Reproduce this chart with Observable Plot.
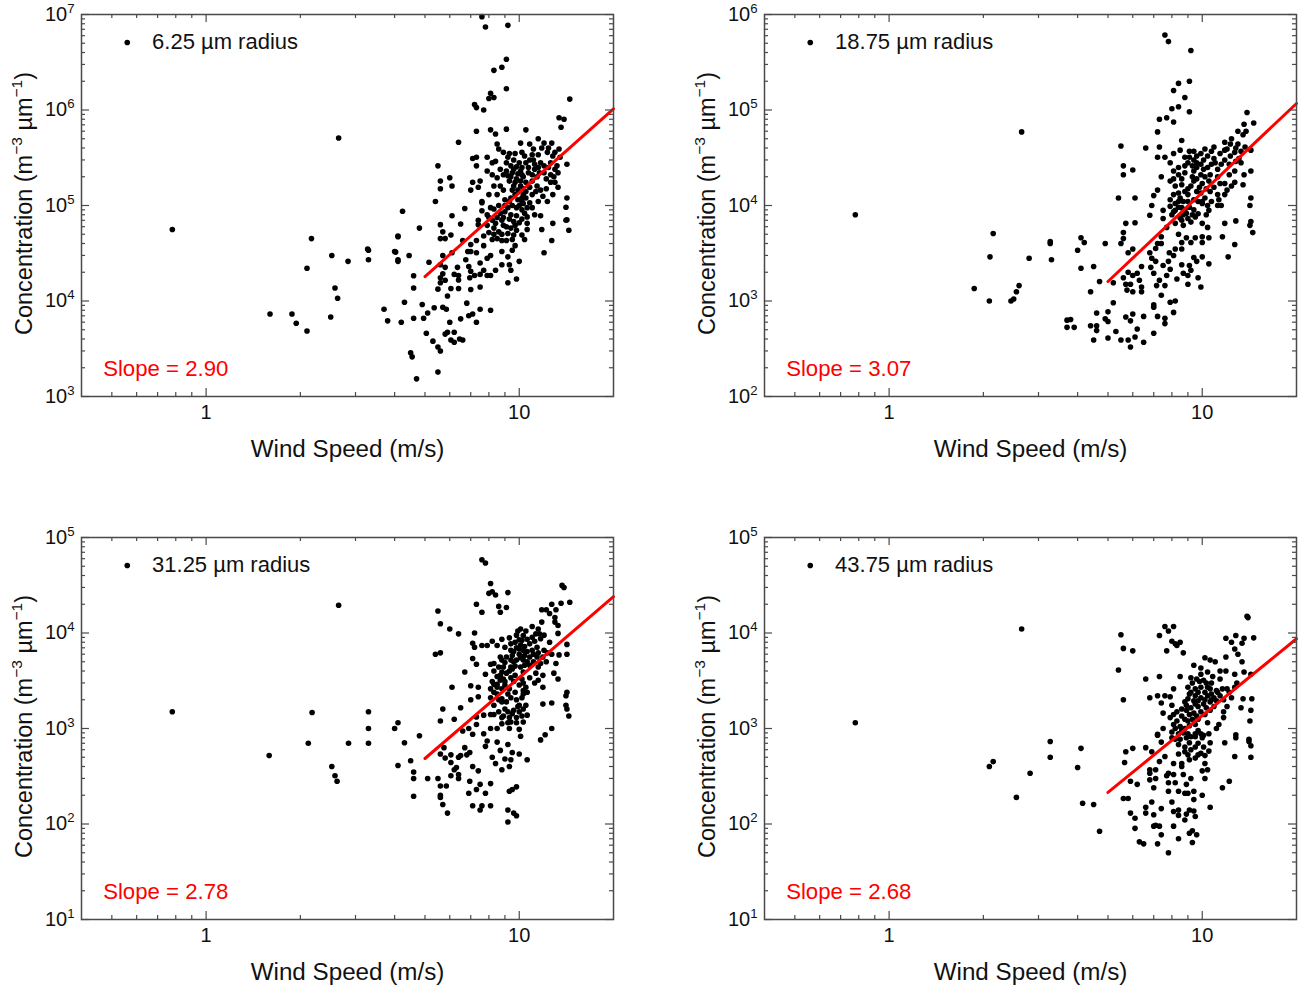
<!DOCTYPE html>
<html><head><meta charset="utf-8">
<style>
html,body{margin:0;padding:0;background:#fff;width:1307px;height:991px;overflow:hidden}
.p{position:absolute}
svg{overflow:visible}
</style>
<script src="https://cdn.jsdelivr.net/npm/d3@7"></script>
<script src="https://cdn.jsdelivr.net/npm/@observablehq/plot@0.6"></script>
</head><body>
<div id="root"></div>
<script>
const points625=[[0.78,5.6e4],[2.65,5.1e5],[2.17,4.5e4],[2.1,2.2e4],[2.52,3e4],[2.84,2.6e4],[3.28,3.5e4],[3.3,3.4e4],[3.3,2.7e4],[4.1,4.7e4],[4.03,3.25e4],[4.1,2.6e4],[2.58,1.37e4],[2.63,1.07e4],[1.6,7.3e3],[1.88,7.3e3],[1.94,5.85e3],[2.1,4.85e3],[2.5,6.8e3],[3.7,8.2e3],[3.8,6.2e3],
[7.6,9.5e6],[7.8,7.4e6],[9.2,7.7e6],[9.1,3.4e6],[8.8,2.8e6],[8.3,2.6e6],[9.1,1.67e6],[8.1,1.5e6],[8.3,1.35e6],[8,1.32e6],[7.2,1.14e6],[7.3,1.06e6],[7.7,1e6],[14.5,1.3e6],[13.4,8.3e5],[13.9,8e5],[13.6,6.6e5],[7.3,6e5],[8.1,6.2e5],[8.4,5.6e5],[9.1,6.3e5],[10.5,6.2e5],[6.4,4.6e5],[5.5,2.6e5],[5.6,1.8e5],[6,1.95e5],[5.6,1.5e5],[6.1,1.6e5],[5.4,1.1e5],
[9.3,1.1e5],[9,1.15e5],[8.5,1.3e5],[8,1.3e5],[7.6,1.07e5],[8.5,1.95e5],[8.2,2.1e5],[7.9,2.3e5],[8.2,2.8e5],[8.4,2.9e5],[7.3,2.6e5],[7.1,3.1e5],[7.3,3.2e5],[7.1,1.75e5],[7.5,1.8e5],[7.4,1.55e5],[7,1.45e5],[7.9,3.2e5],[8.5,4.4e5],[8.6,3.9e5],[8.9,3.6e5],[9.3,3.5e5],[9.7,3.5e5],[10.1,4.5e5],[10.2,3.6e5],[10.8,4.4e5],[11.1,3.9e5],[11.5,5e5],[12,4.5e5],[12.7,4.5e5],[11.8,4e5],[12.3,3.6e5],[13.4,3.9e5],[13,3.6e5],[9.1,2.8e5],[9.6,3e5],[10,2.8e5],[10.5,2.8e5],[11.1,3e5],[11.7,2.8e5],[12.6,2.8e5],[13.2,2.6e5],[14.2,2.7e5],[9.1,2.3e5],[9.6,2.4e5],[10.1,2.3e5],[10.7,2.2e5],[11.2,2.4e5],[12,2.2e5],[13,2.4e5],[9.4,2e5],[9.8,1.9e5],[10.3,2e5],[11,1.8e5],[11.4,2e5],[12.6,2.1e5],[13.3,2.2e5],[9.6,1.6e5],[10.1,1.6e5],[10.8,1.55e5],[11.4,1.6e5],[12.6,1.75e5],[13,1.75e5],[13.3,1.55e5],[9.7,1.3e5],[10.3,1.3e5],[11,1.3e5],[11.9,1.25e5],[12.8,1.3e5],[14.2,1.2e5],[10.2,1.1e5],[10.8,1.07e5],[11.5,1.1e5],[12.3,1.1e5],
[4.24,8.7e4],[4.8,5.8e4],[4.1,4.8e4],[4,3.3e4],[4.1,2.7e4],[4.45,3e4],[4.6,1.84e4],[4.6,1.37e4],[4.3,9.7e3],[4.9,9.2e3],[4.2,6e3],[4.6,6.6e3],[4.95,6.6e3],[5.1,7.5e3],[5.35,8.5e3],[5.7,8.6e3],[5.85,8.2e3],[5.05,4.6e3],[5.3,3.8e3],[5.5,3.3e3],[5.6,3e3],[4.5,2.87e3],[4.55,2.6e3],[5.5,1.8e3],[4.7,1.53e3],[5.9,4.7e3],[5.8,4.5e3],[6.2,4.7e3],[6,6e3],[6.5,6.5e3],[6.9,7e3],[7.1,7.3e3],[7.3,6e3],[6.8,9.5e3],[7.5,8.2e3],[8.1,8e3],[6.05,3.9e3],[6.2,3.7e3],[6.45,4e3],[6.6,3.9e3],[5.9,1.13e4],[5.5,1.33e4],[6.05,1.35e4],[6.4,1.35e4],[7,1.32e4],[7.5,1.4e4],[9.2,1.55e4],[9.8,1.7e4],[5.15,2.55e4],[5.6,2.4e4],[5.8,2.25e4],[5.7,3e4],[6.1,3.2e4],[5.7,1.93e4],[5.6,1.75e4],[5.8,1.65e4],[5.6,1.55e4],[6.2,1.9e4],[6.35,2.25e4],[6.4,1.85e4],[6.4,1.66e4],[6.9,2.3e4],[6.75,2.7e4],[6.85,3.3e4],[7,3.3e4],[7.3,3.2e4],[7,2.05e4],[6.95,1.75e4],[7.2,1.85e4],[7.5,1.9e4],[7.9,1.85e4],[8.1,1.85e4],[7.7,2.1e4],[7.5,2.5e4],[7.9,2.8e4],[8.4,2.1e4],[8.8,2.4e4],[9.3,2.4e4],[9.4,2.1e4],[10,2.6e4],[9.2,2.9e4],[9.5,3.4e4],[9.7,3.8e4],[8.8,3.3e4],[8.1,3e4],[5.6,4.5e4],[5.8,4.5e4],[6.05,4.9e4],[5.6,6.3e4],[5.7,5.3e4],[6.5,6.4e4],[6.1,7.8e4],[6.7,9.3e4],[6.6,4.3e4],[7,3.9e4],[7.3,4.3e4],[7.7,4.8e4],[8.2,4.4e4],[8.5,4.5e4],[8.8,4.3e4],[9.1,4.3e4],[9.5,4.4e4],[10.4,4.4e4],[10.2,4.9e4],[9.8,5.5e4],[10.6,5.6e4],[10.6,6.5e4],[10,6.6e4],[7.4,7e4],[7.4,6.3e4],[7.9,8e4],[8.1,9.5e4],[7.6,1.1e5],[8.2,7e4],[8.3,5.8e4],[8.4,6.5e4],[8.8,7e4],[9.1,6e4],[9,8.6e4],[9.4,8e4],[9.6,6.8e4],[10.2,9e4],[10.4,8.3e4],[11.2,8e4],[11.7,7.8e4],[11.8,5.6e4],[12.8,6.5e4],[12.7,4.3e4],[12,3.2e4],[14.1,7e4],[14.2,7.1e4],[14.1,9.6e4],[14.4,5.5e4]];
const cluster625=[[9,1e5],[9.2,9.5e4],[9.5,1e5],[9.8,9.5e4],[10,1e5],[10.3,1.05e5],[10.6,9.5e4],[9.4,1.2e5],[9.9,1.15e5],[10.2,1.2e5],[10.5,1.2e5],[9.5,1.45e5],[9.9,1.45e5],[10.3,1.5e5],[10.5,1.4e5],[9.3,1.8e5],[9.7,1.75e5],[10.1,1.8e5],[10.5,1.75e5],[9.2,2.05e5],[9.5,2.2e5],[9.9,2.15e5],[10.2,2.1e5],[9.4,2.6e5],[9.8,2.55e5],[10.2,2.5e5],[10.7,2.5e5],[11.2,2.7e5],[11.5,2.5e5],[12,2.6e5],[12.4,2.5e5],[11,2.1e5],[11.6,2.2e5],[12.2,1.9e5],[12.9,2e5],[8.7,2.4e5],[8.9,2.1e5],[8.7,1.6e5],[8.9,1.45e5],[8.3,1.6e5],[8.6,1e5],[8.3,9.2e4],[8.7,8.3e4],[8.5,7.5e4],[8.9,7.5e4],[9.3,7.2e4],[9.8,7.8e4],[10.2,7.2e4],[9.4,5.8e4],[9.7,6.2e4],[8.9,6.2e4],[8.6,5.3e4],[8.3,5e4],[7.9,6.2e4],[8,5.2e4],[10.6,7.6e4],[11,9.5e4],[11.3,1.4e5],[11.7,1.45e5],[12.2,1.5e5],[9.6,4.9e4],[8.8,5e4],[9.2,5.1e4],[7.7,3.8e4],[7.6,8.8e4],[8,7.5e4],[10.8,3e5],[12.4,4e5],[11,3.4e5],[12.8,3.3e5],[13.5,3.2e5],[9.2,3.2e5],[10.4,3.3e5],[11.5,3.4e5]];
const fit625=[[5,1.8e4],[20,1.03e6]];

const points1875=[[0.78,8e3],[2.65,5.9e4],[1.87,1.35e3],[2.09,1e3],[2.1,2.9e3],[2.15,5.1e3],[2.45,1e3],[2.5,1.05e3],[2.55,1.25e3],[2.6,1.45e3],[2.8,2.8e3],[3.27,4e3],[3.27,4.2e3],[3.3,2.7e3],[3.7,6.3e2],[3.7,5.3e2],
[7.6,6.1e5],[7.8,5.2e5],[9.2,4.2e5],[9.1,2e5],[8.4,1.9e5],[8.1,1.6e5],[8.8,1.35e5],[8.4,1.08e5],[8,1.03e5],[9.1,9.6e4],[7.3,8e4],[7.7,8.3e4],[8.1,7.5e4],[7.2,5.9e4],[13.9,9.4e4],[13.6,7.1e4],[14.6,7.3e4],[13.8,6e4],[13,6e4],[13.5,5.5e4],[8.6,4.8e4],[5.5,4.2e4],[6.6,4e4],[7.3,4.1e4],[5.6,2.6e4],[6,2.35e4],[5.6,2.1e4],[8.1,3.5e4],[8.5,3.8e4],[7.2,3.2e4],[7.6,3.2e4],[7.9,2.8e4],[7.4,2e4],[5.4,1.2e4],[6.1,1.2e4],[14.3,2.3e4],[14.3,1.2e4],[13.6,2.1e4],[13.5,1.65e4],[12.7,2.3e4],[7,1.27e4],[7.2,1.45e4],
[9.1,3.7e4],[10.2,3.9e4],[10.9,4.1e4],[11.8,4.6e4],[12.4,5e4],[13,4.4e4],[13.7,4.1e4],[14.3,3.8e4],[12,3.9e4],[12.7,3.6e4],[11.4,3.5e4],[10.9,3.1e4],[10.4,3.3e4],[9.9,3.5e4],[9.4,3e4],[9,2.8e4],[8.8,2.6e4],[9.9,2.7e4],[10.4,2.5e4],[11.8,3e4],[11.2,2.4e4],[13.1,3.1e4],[9.4,2.3e4],[9.9,2.1e4],[8.1,2.3e4],[8.4,2.1e4],[7.9,1.8e4],[8.2,1.6e4],[8.6,1.65e4],[9.4,1.8e4],[9.8,1.55e4],[10.5,1.8e4],[11.2,2e4],[11.8,1.7e4],[12.7,1.75e4],[10.6,1.4e4],[11.2,1.3e4],[11.8,1.3e4],[10.2,1.2e4],[9,1.3e4],[8.5,1.2e4],[8.1,1.3e4],[7.9,1.15e4],
[14.2,1e4],[6.9,1e4],[6.8,7.9e3],[5.7,6.5e3],[6.1,6.6e3],[5.6,5.2e3],[5.6,4.5e3],[5.5,4e3],[6,3.5e3],[5.8,3.2e3],[4.9,4e3],[4.1,4.6e3],[4.2,4.1e3],[4,3.4e3],[4.1,2.2e3],[4.5,2.3e3],[4.7,1.6e3],[4.4,1.25e3],[5.2,1.55e3],[5.8,2e3],[5.6,1.75e3],[5.7,1.5e3],[5.9,1.5e3],[5.75,1.3e3],[6,1.85e3],[6.2,1.95e3],[6.3,1.65e3],[6.4,1.4e3],[6,1.25e3],[6.4,1.25e3],[6.4,2.3e3],[6.85,2.25e3],[7,1.95e3],[7.3,1.65e3],[7.15,1.45e3],[7.6,1.45e3],[7.4,1.15e3],[7.5,2.35e3],[7.7,1.85e3],[7.9,2.15e3],[7.8,2.6e3],[6.9,2.8e3],[7.1,2.6e3],[6.8,3.2e3],[7.1,3.55e3],[7.85,3.2e3],[8.1,3e3],[8.2,3.5e3],[8.6,3.5e3],[7.2,4e3],[7.4,4e3],[7.4,4.7e3],[8.3,1.7e3],[8.7,1.95e3],[8.6,2.4e3],[9.1,2.35e3],[9.2,2.1e3],[9,1.85e3],[9.7,1.75e3],[9,1.5e3],[9.9,1.4e3],[9.6,2.6e3],[10,2.9e3],[9.4,2.85e3],[10.5,2.45e3],[12.1,2.9e3],[12.7,3.9e3],[11.6,4.7e3],[12.8,6.9e3],[14.3,6.8e3],[14.2,6.2e3],[14.5,5.2e3],[11.8,6.5e3],[8.6,4.1e3],[8.9,4.6e3],[9.2,4.1e3],[9.5,4.6e3],[10,4.7e3],[10,4.1e3],[10.5,4.6e3],[8.4,5e3],[7.7,5.9e3],[8.2,6.5e3],[8.7,6.2e3],[9.2,6.7e3],[9.5,7.6e3],[10,6.5e3],[10.4,5.9e3],[7.5,7.3e3],[7.5,8.9e3],[8.1,8.6e3],[8.4,9.6e3],[8.9,8.3e3],[10.5,8.9e3],[10,1.05e4],[11.2,1e4],[11.5,1e4],[5.2,9.6e2],[4.6,7.5e2],[5,7.7e2],[3.8,6.4e2],[3.9,5.3e2],[4.4,5.5e2],[4.6,5.5e2],[4.6,4.9e2],[4.9,6.5e2],[5,6.1e2],[5.7,6.8e2],[6,7.3e2],[5.9,6.2e2],[6.5,6.9e2],[7,9.1e2],[7,8.6e2],[7.9,9.7e2],[8.2,1e3],[8.1,7.6e2],[7.2,6.9e2],[7.6,6.6e2],[7.6,5.8e2],[6.2,5.1e2],[5.3,4.8e2],[4.5,3.9e2],[5,4.1e2],[5.5,3.9e2],[5.8,3.9e2],[6.1,4.2e2],[6.5,3.7e2],[5.9,3.3e2],[7,4.6e2]];
const cluster1875=[[9.3,2.6e4],[9.6,2.5e4],[9.6,2.8e4],[10.1,2.4e4],[9.3,2e4],[9.6,1.9e4],[10.2,2e4],[10.6,2.1e4],[10,1.7e4],[9.2,1.6e4],[9.6,1.4e4],[9,1.5e4],[9.9,1.35e4],[10.3,1.5e4],[10.9,1.55e4],[11.4,1.7e4],[8.8,1.4e4],[8.4,1.35e4],[8.7,1.1e4],[9,1.1e4],[9.4,1.15e4],[9.7,1.1e4],[8.2,1.05e4],[8.4,1.1e4],[8.6,9.5e3],[8.8,9e3],[9.1,9.6e3],[9.4,9e3],[7.9,9.8e3],[8.2,8.9e3],[8,8e3],[8.5,7.4e3],[8.7,8e3],[8.6,7e3],[9,7.3e3],[9.3,8e3],[9.7,8.2e3],[10.3,8e3],[10.7,1.1e4],[11.3,1.15e4],[12,1.45e4],[12.4,1.6e4],[12.2,2.1e4],[11,2.8e4],[11.5,2.7e4],[12.2,2.7e4],[12.8,2.9e4],[13.3,2.8e4],[12.3,3.3e4],[11.8,3.8e4],[12.8,4e4],[12.3,4.4e4],[13.3,3.7e4],[10.7,3.7e4],[10.1,3e4],[10.7,2.7e4],[9.1,3.2e4],[9.6,3.3e4],[9.4,3.7e4],[8.8,3.2e4],[8.4,2.5e4],[8.8,2.2e4],[8.6,1.9e4],[8.1,1.9e4],[10,1.1e4],[10.4,1e4]];
const fit1875=[[5,1.6e3],[20,1.17e5]];

const points3125=[[0.78,1.5e3],[2.65,1.95e4],[1.59,5.2e2],[2.18,1.47e3],[2.12,7e2],[2.52,4e2],[2.58,3.2e2],[2.62,2.8e2],[2.85,7e2],[3.3,1.5e3],[3.3,1e3],[3.3,7e2],
[7.6,5.85e4],[7.8,5.4e4],[8.1,3.3e4],[8,2.6e4],[8.2,2.7e4],[8.4,2.5e4],[9.2,2.65e4],[13.7,3.15e4],[13.9,3e4],[5.5,1.7e4],[5.6,1.25e4],[6,1.1e4],[6.4,9.8e3],[7.2,1e4],[7.3,2e4],[7.6,1.65e4],[8.6,1.9e4],[8.7,1.65e4],[9.1,1.85e4],[11.8,1.75e4],[12.2,1.75e4],[12.7,2e4],[12.5,1.6e4],[13.6,2.05e4],[14.5,2.1e4],[13.1,1.75e4],[13,1.45e4],[13.3,1.2e4],[13,1.3e4],[5.4,6e3],[5.6,6.2e3],[7.1,5.4e3],[7.3,4.7e3],[6.7,3.9e3],[7.8,3.7e3],[6.1,2.7e3],[7,2.8e3],[7.4,2.7e3],[14.2,2.4e3],[14.1,2.2e3],[13.4,5.9e3],[14.2,6e3],[14.2,7.6e3],[13.3,9.9e3],[12.9,3.8e3],[13.3,3.3e3],[11.9,2.7e3],[11.9,3.6e3],[11.5,3.2e3],[11.2,3e3],[11.3,3.8e3],
[7.1,7.8e3],[7.2,7.1e3],[7.6,7.4e3],[7.9,7.4e3],[8.2,8.2e3],[8.5,7.4e3],[8.8,8.6e3],[9.3,8.9e3],[9,7.1e3],[9.4,7.7e3],[10.1,1.1e4],[10.5,1.05e4],[11,1.17e4],[11.5,1.1e4],[11.8,1.3e4],[12,9.5e3],[11.7,8.7e3],[9.8,9.5e3],[10.2,8.4e3],[10.8,7.7e3],[11.4,7.1e3],[12.5,8e3],[10.3,6.6e3],[10,6.8e3],[9.5,5.8e3],[8.7,5.6e3],[8.8,5.2e3],[9.1,5.6e3],[9.8,5.2e3],[10.3,5.2e3],[10.8,5.6e3],[11.4,5.6e3],[11.9,5.6e3],[12.7,6e3],[12.2,5e3],[11.7,4.8e3],[13.1,4.8e3],[8.1,4.7e3],[8.3,4.8e3],[8.9,4.4e3],[9.4,4.4e3],[10.1,4.4e3],[10.8,4.6e3],[9.1,3.8e3],[8.5,3.5e3],[8.2,3.1e3],[8.7,3.2e3],[9.7,3.6e3],[10.3,3.9e3],[10.2,3.3e3],[8.1,2.6e3],[8.5,2.7e3],[9,2.85e3],[9.6,3.1e3],[10,2.85e3],[10.3,2.5e3],[10.5,2.7e3],[7.4,2.15e3],[7,2e3],[8.1,2.1e3],[8.5,2.3e3],[9.4,2.1e3],[10.2,2.1e3],[8.8,2.05e3],[9.8,2e3],
[14.1,1.75e3],[14.2,1.6e3],[14.4,1.35e3],[11.9,1.8e3],[12.7,1.85e3],[12.7,1e3],[12.1,8.6e2],[11.7,7.6e2],[5.7,1.6e3],[6.5,1.65e3],[5.6,1.2e3],[6.2,1.25e3],[4.1,1.15e3],[4,1e3],[4.8,8.4e2],[4.3,7.1e2],[4.5,4.6e2],[4.1,4.1e2],[4.6,3.5e2],[4.6,3e2],[4.6,1.95e2],[5.1,3e2],[5.5,3e2],[5.6,2.5e2],[5.85,2.5e2],[5.6,2e2],[5.6,1.9e2],[5.7,1.6e2],[5.9,1.3e2],[6.05,3.2e2],[6.4,3e2],[6.4,3.3e2],[6.3,3.9e2],[6.2,3.7e2],[6.05,4.4e2],[5.6,5.4e2],[5.75,6.3e2],[5.8,4.9e2],[6.05,5.3e2],[6.4,5e2],[6.5,5.2e2],[6.8,5.3e2],[6.95,5.6e2],[6.7,6.3e2],[7.1,4e2],[7.4,3.6e2],[6.95,2.8e2],[7.5,2.6e2],[7.3,2.3e2],[6.9,2.1e2],[7.8,2.1e2],[8.1,2.65e2],[7.1,1.55e2],[7.6,1.55e2],[7.5,1.4e2],[8.1,1.55e2],[9.2,1.4e2],[9.6,1.3e2],[9.8,1.22e2],[9.2,1.05e2],[9.3,2.2e2],[9.5,2.3e2],[9.8,2.45e2],[10.6,4.7e2],[9.3,4e2],[9.4,4.7e2],[9,4.8e2],[8.8,3.7e2],[8.4,4.3e2],[8.2,5e2],[10,5.4e2],[9.5,5.6e2],[8.7,5.9e2],[8.5,7.2e2],[9.2,6.8e2],[7.8,6.5e2],[7.9,7.4e2],[7.7,8.8e2],[7.1,8.7e2],[6.9,1e3],[6.6,9.4e2],[7.3,1.1e3],[8.1,1e3],[8.5,1e3],[9.3,1e3],[10,9.8e2],[10.1,8.3e2],[9.4,1.17e3],[8.8,1.12e3],[10.3,1.17e3],[7.7,1.38e3],[8.1,1.4e3],[7.3,1.32e3],[8.3,1.75e3],[9,1.6e3],[9.5,1.43e3],[10,1.5e3],[10.6,1.38e3],[10.5,1.75e3],[10,1.75e3],[9.1,1.9e3]];
const cluster3125=[[9.7,8e3],[10,8.5e3],[9.9,1.05e4],[10.3,9.4e3],[10.6,8.6e3],[11,9e3],[11.3,9.8e3],[11.2,8.2e3],[11.6,9.8e3],[10.1,7.5e3],[9.8,7e3],[10.4,7.2e3],[11,6.6e3],[11.5,6.2e3],[12,6.6e3],[12.3,6.2e3],[9.4,6.6e3],[9.6,6.4e3],[10,6e3],[10.4,5.8e3],[10.6,6.4e3],[11.1,6e3],[9.4,5.2e3],[9.6,5e3],[10.1,5.5e3],[10.6,5e3],[11.1,5e3],[11.5,4.4e3],[9,4.9e3],[8.6,4.4e3],[9.7,4.5e3],[10.4,4.6e3],[9.3,4e3],[9.5,4.2e3],[8.8,3.9e3],[8.3,4e3],[8.7,3.6e3],[8.9,3.3e3],[9.4,3.4e3],[9,3.1e3],[8.5,2.9e3],[8.3,2.9e3],[8.3,2.4e3],[8.8,2.6e3],[9.3,2.6e3],[9.2,2.3e3],[9.7,2.4e3],[10.3,2.3e3],[10.6,2.4e3],[10.3,3e3],[10.8,3.4e3],[9.9,1.7e3],[10.3,1.6e3],[9.6,1.55e3],[9.2,1.5e3],[9.8,1.3e3],[10.2,1.35e3],[9.3,1.3e3],[8.9,1.35e3],[9.2,1.15e3],[9.8,1.15e3],[8.8,1.3e3],[8.6,1.5e3],[8.3,1.4e3],[8.8,1.9e3],[8.6,2e3]];
const fit3125=[[5,4.85e2],[20,2.4e4]];

const points4375=[[0.78,1.15e3],[2.65,1.1e4],[2.09,4e2],[2.15,4.5e2],[2.55,1.9e2],[2.82,3.4e2],[3.27,7.3e2],[3.27,5e2],
[13.9,1.5e4],[14,1.45e4],[5.5,9.6e3],[5.6,6.9e3],[6,6.5e3],[5.4,4.1e3],[5.6,2e3],[7.6,1.17e4],[8.1,1.17e4],[7.8,1.05e4],[7.3,9.4e3],[8,8.2e3],[8.2,7.7e3],[8.5,8e3],[8.3,7.4e3],[7.7,6.5e3],[8.7,6.2e3],[11.9,8.8e3],[12.8,9.4e3],[13.6,8.8e3],[14.6,8.9e3],[12.4,8e3],[13.4,7.8e3],[12.7,6.8e3],[13,6e3],[11.9,5.6e3],[13.4,5e3],[10.2,5.5e3],[10.6,5.2e3],[11,5e3],[9.4,4.6e3],[9.9,4.3e3],[11.4,4e3],[11.9,4e3],[12.7,3.7e3],[13.6,3.9e3],[14.3,3.7e3],[6.6,3.3e3],[7.3,3.5e3],[8.5,3.5e3],[7.2,2.2e3],[6.8,2.1e3],[7.6,2.2e3],[7.9,2.15e3],[8.1,2.6e3],[7.4,1.85e3],[8,1.75e3],[7.5,1.45e3],[14.4,2.05e3],[14.3,1.55e3],[14.2,1.2e3],[13.5,2.05e3],[13.3,1.65e3],[11.3,1.1e3],[11.1,1e3],[7.5,1e3],[7.2,8.7e2],[12.8,8.6e2],[14.1,7.7e2],
[9.2,3.4e3],[10.4,3.9e3],[9.6,3.3e3],[10.1,3.2e3],[11.4,3.3e3],[9,2.7e3],[9.5,2.6e3],[9.9,2.7e3],[10.6,2.6e3],[11.1,2.5e3],[12,2.6e3],[12.7,2.7e3],[9,2.05e3],[9.5,2.2e3],[9.9,2.1e3],[10.4,2.2e3],[10.9,2.1e3],[11.4,2.2e3],[12.4,2.1e3],[8.8,1.9e3],[9.5,1.8e3],[10.1,1.8e3],[10.6,1.9e3],[12,1.7e3],[8.3,1.5e3],[8.9,1.55e3],[9.4,1.45e3],[9.9,1.5e3],[10.6,1.55e3],[11.7,1.5e3],[11.7,1.3e3],[7.9,1.3e3],[8.3,1.2e3],[8.8,1.25e3],[9.5,1.1e3],[10.4,1.15e3],[8.2,1e3],[8.8,1e3],[9.1,1.07e3],[8,9.2e2],[8.4,8.8e2],[9.5,8.8e2],[10.1,8.5e2],[10.5,8.8e2],
[4.1,6.2e2],[4,3.9e2],[4.15,1.65e2],[4.5,1.6e2],[4.7,8.4e1],[5.7,5.7e2],[6,6.2e2],[6.6,6.3e2],[6.9,5.7e2],[5.65,4.4e2],[7.3,4.5e2],[7.6,5.1e2],[8.1,4.3e2],[8.6,4.3e2],[8.6,4e2],[8.4,5.4e2],[8.8,5.7e2],[9,5.3e2],[9.1,4.7e2],[9.5,4.9e2],[9.9,5.5e2],[10.5,5.8e2],[10.2,4.3e2],[10,3.6e2],[10.4,3.7e2],[10.2,3e2],[11.8,7.1e2],[12.8,8e2],[14.1,7.3e2],[14.3,6.6e2],[12.7,5.1e2],[14.3,5e2],[12.2,2.8e2],[11.6,2.4e2],[10,2e2],[10.6,1.5e2],[9.4,1.8e2],[9.4,2.2e2],[8.9,2.6e2],[8.8,2.1e2],[8.4,2.2e2],[9,2.1e2],[9.2,3e2],[8.7,3.3e2],[8.2,2.7e2],[8.1,3.3e2],[7.8,3.4e2],[7.7,3.2e2],[7.8,2.7e2],[7.8,2.2e2],[8,1.7e2],[6.8,3.7e2],[7.1,3.7e2],[6.8,3.4e2],[7.1,3e2],[6.8,2.9e2],[5.9,2.8e2],[6.2,2.6e2],[7,2.4e2],[5.6,1.85e2],[5.8,1.85e2],[6.9,1.7e2],[6.6,1.5e2],[6.6,1.3e2],[7,1.25e2],[5.9,1.3e2],[6.1,1.15e2],[7.4,1.45e2],[8.1,1.35e2],[8.4,1.4e2],[8.4,1.23e2],[8.9,1.27e2],[9.1,1.4e2],[9.4,1.37e2],[9.5,1.2e2],[8.8,1.1e2],[6.1,9e1],[7,9.5e1],[7.1,9.7e1],[7.3,9.5e1],[8.1,9.5e1],[7.4,7.7e1],[8.4,7e1],[9.1,8e1],[9.3,8.5e1],[9.6,7.7e1],[6.3,6.5e1],[6.5,6.2e1],[7.2,6.2e1],[9.3,6.4e1],[7.8,5e1],[7.4,7.2e2],[8,8e2],[9.1,7.1e2],[9.7,7e2],[10.6,7.1e2],[7.2,8.5e2],[10,8e2],[9.5,8.2e2],[8.5,7.7e2]];
const cluster4375=[[9.3,3e3],[9.8,3.1e3],[10.3,3e3],[10.7,3e3],[9.2,2.4e3],[9.7,2.4e3],[10.2,2.4e3],[10.7,2.3e3],[11.2,2.4e3],[11.6,2.6e3],[9.1,2.3e3],[9.4,1.95e3],[9.7,1.95e3],[10.2,2e3],[10.7,2e3],[11.1,1.95e3],[11.7,2e3],[8.9,1.75e3],[9.2,1.65e3],[9.7,1.7e3],[10.3,1.65e3],[10.9,1.7e3],[8.6,1.6e3],[9.1,1.4e3],[9.6,1.35e3],[10.2,1.4e3],[8.1,1.4e3],[8.6,1.35e3],[9,1.2e3],[9.3,1.25e3],[8.5,1.05e3],[8.1,1.1e3],[9.7,1.25e3],[8.7,9e2],[9,8.8e2],[9.7,9.5e2],[9.9,8.8e2],[8.9,8e2],[8.2,7.7e2],[8.4,6.8e2],[8.8,6.4e2],[9.2,6e2],[9.5,6.4e2],[10.1,6.4e2],[9.7,5.3e2],[10.2,5.2e2],[9.2,8.2e2],[8.6,9.5e2],[12.2,2.4e3],[12.9,3e3],[9.9,3.7e3],[10.8,3.5e3],[10.4,2.7e3]];
const fit4375=[[5,2.14e2],[20,8.7e3]];

const radiusLabels=["6.25 µm radius","18.75 µm radius","31.25 µm radius","43.75 µm radius"];
const slopeLabels=["Slope = 2.90","Slope = 3.07","Slope = 2.78","Slope = 2.68"];
const yDomains=[[1e3,1e7],[1e2,1e6],[1e1,1e5],[1e1,1e5]];
const yTicks=[[1e3,1e4,1e5,1e6,1e7],[1e2,1e3,1e4,1e5,1e6],[1e1,1e2,1e3,1e4,1e5],[1e1,1e2,1e3,1e4,1e5]];
const xDomain=[0.4,20];
const xMajor=[1,10];
const xMinor=[0.5,0.6,0.7,0.8,0.9,2,3,4,5,6,7,8,9];
const series=[points625.concat(cluster625),points1875.concat(cluster1875),points3125.concat(cluster3125),points4375.concat(cluster4375)];
const fits=[fit625,fit1875,fit3125,fit4375];
const xTitle="Wind Speed (m/s)";
const yTitle="Concentration (m^{−3} µm^{−1})";

const frameColor="#4a4a4a", font="'Liberation Sans',Arial,sans-serif";
const W=532,H=382;
const lefts=[0,683,0,683], tops=[0,0,523,523];

function minorY(dom){const out=[];for(let d=dom[0];d<dom[1];d*=10)for(let m=2;m<=9;m++)out.push(d*m);return out;}
function superscripts(svg){
  svg.querySelectorAll("text").forEach(t=>{
    const s=t.textContent; if(!s.includes("^{"))return;
    const parts=s.split(/\^\{(.*?)\}/);
    t.textContent="";
    let up=false;
    parts.forEach((p,i)=>{
      if(!p)return;
      const sp=document.createElementNS("http://www.w3.org/2000/svg","tspan");
      sp.textContent=p;
      if(i%2){sp.setAttribute("font-size","0.66em");sp.setAttribute("dy","-0.62em");up=true;}
      else if(up){sp.setAttribute("dy","0.41em");up=false;}
      t.appendChild(sp);
    });
  });
}
series.forEach((pts,i)=>{
  const dom=yDomains[i], y0=dom[0];
  const width=i%2?624:640;
  const tick={stroke:frameColor,strokeWidth:1.2};
  const svg=Plot.plot({
    width,height:470,marginLeft:81,marginRight:width-81-W,marginTop:14,marginBottom:470-14-H,
    style:{fontFamily:font,background:"transparent",color:"#111",overflow:"visible"},
    x:{type:"log",domain:xDomain},
    y:{type:"log",domain:dom},
    marks:[
      Plot.dot(pts,{x:d=>d[0],y:d=>d[1],r:2.8,fill:"#000",stroke:"none"}),
      Plot.line(fits[i],{x:d=>d[0],y:d=>d[1],stroke:"#f00",strokeWidth:3}),
      Plot.ruleX(xMinor,{x:d=>d,insetTop:H-4,...tick}),
      Plot.ruleX(xMinor,{x:d=>d,insetBottom:H-4,...tick}),
      Plot.ruleX(xMajor,{x:d=>d,insetTop:H-8,...tick}),
      Plot.ruleX(xMajor,{x:d=>d,insetBottom:H-8,...tick}),
      Plot.ruleY(minorY(dom),{y:d=>d,insetRight:W-4,...tick}),
      Plot.ruleY(minorY(dom),{y:d=>d,insetLeft:W-4,...tick}),
      Plot.ruleY(yTicks[i],{y:d=>d,insetRight:W-8,...tick}),
      Plot.ruleY(yTicks[i],{y:d=>d,insetLeft:W-8,...tick}),
      Plot.frame({stroke:frameColor,strokeWidth:1.5}),
      Plot.axisX(xMajor,{tickSize:0,tickPadding:8,label:null,fontSize:20,tickFormat:d=>String(d)}),
      Plot.axisY(yTicks[i],{tickSize:0,tickPadding:7,label:null,fontSize:20,tickFormat:d=>`10^{${Math.round(Math.log10(d))}}`}),
      Plot.text([xTitle],{frameAnchor:"bottom",dy:53,lineAnchor:"middle",fontSize:24.2,fill:"#111"}),
      Plot.text([yTitle],{frameAnchor:"left",dx:-57,dy:-2,rotate:-90,textAnchor:"middle",lineAnchor:"middle",fontSize:23.5,fill:"#111"}),
      Plot.dot([[0.56,y0*5100]],{x:d=>d[0],y:d=>d[1],r:2.8,fill:"#000",stroke:"none"}),
      Plot.text([radiusLabels[i]],{x:()=>0.672,y:()=>y0*5100,textAnchor:"start",fontSize:22,fill:"#111"}),
      Plot.text([slopeLabels[i]],{x:()=>0.469,y:()=>y0*1.96,textAnchor:"start",fontSize:22.2,fill:"#f00"})
    ]
  });
  superscripts(svg);
  svg.classList.add("p");
  svg.style.left=lefts[i]+"px"; svg.style.top=tops[i]+"px"; svg.style.position="absolute";
  document.getElementById("root").appendChild(svg);
});
</script>
</body></html>
